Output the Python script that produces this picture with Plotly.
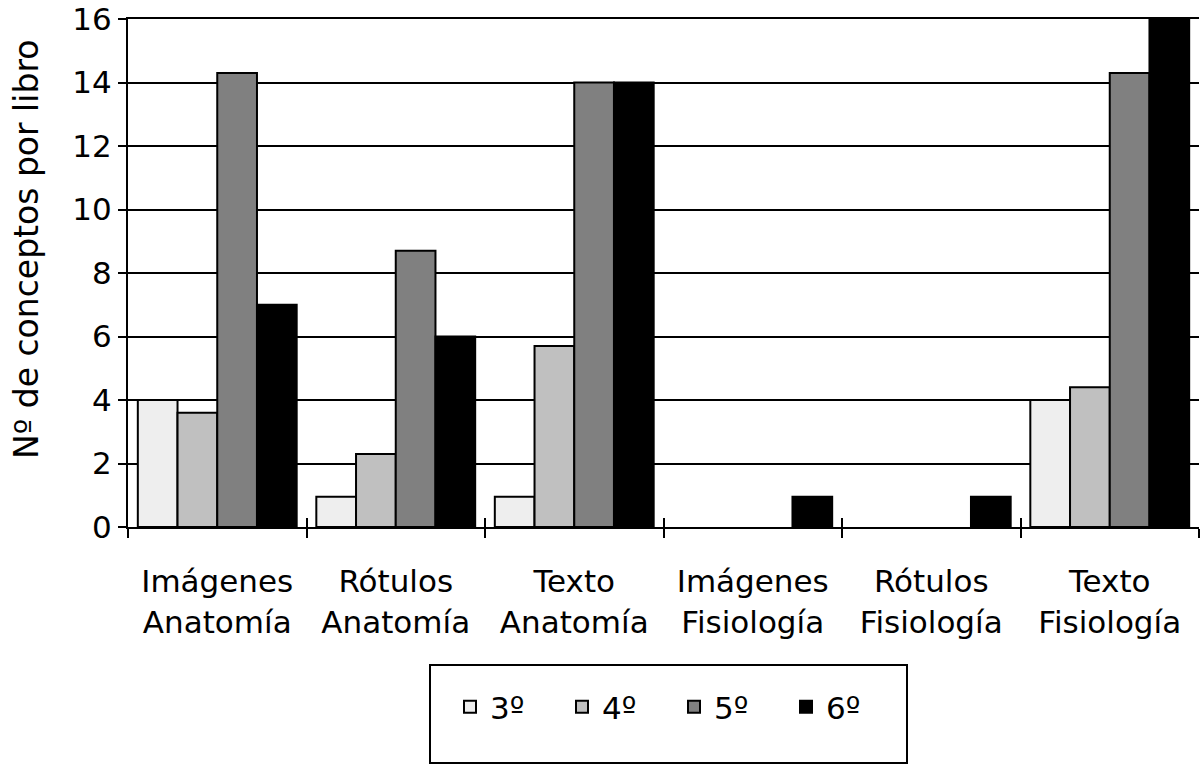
import plotly.graph_objects as go

categories = ["Imágenes<br>Anatomía", "Rótulos<br>Anatomía", "Texto<br>Anatomía",
              "Imágenes<br>Fisiología", "Rótulos<br>Fisiología", "Texto<br>Fisiología"]
series_names = ["3º", "4º", "5º", "6º"]
v3 = [4.0, 0.95, 0.95, None, None, 4.0]
v4 = [3.6, 2.3, 5.7, None, None, 4.4]
v5 = [14.3, 8.7, 14.0, None, None, 14.3]
v6 = [7.0, 6.0, 14.0, 0.95, 0.95, 16.0]
colors = ["#EEEEEE", "#C0C0C0", "#808080", "#000000"]
y_ticks = [0, 2, 4, 6, 8, 10, 12, 14, 16]
y_title = "Nº de conceptos por libro"

FONT = "DejaVu Sans"
TICK = 31
W, H = 1204, 765
PL, PR, PT, PB = 128, 1199, 19, 527          # plot area in px
PW, PHt = PR - PL, PB - PT

def px(x):
    return (x - PL) / PW

def py(y):
    return (PB - y) / PHt

fig = go.Figure()
for name, vals, col in zip(series_names, [v3, v4, v5, v6], colors):
    fig.add_trace(go.Bar(x=categories, y=vals, name=name,
                         marker=dict(color=col, line=dict(color="black", width=2))))
# invisible trace on an overlay axis to draw the inner half of crossing ticks
fig.add_trace(go.Scatter(x=categories, y=v6, xaxis="x2", mode="markers",
                         marker=dict(opacity=0), showlegend=False, hoverinfo="skip"))

fig.update_layout(
    width=W, height=H,
    margin=dict(l=PL, r=W - PR, t=PT, b=H - PB, autoexpand=False),
    paper_bgcolor="white", plot_bgcolor="white",
    barmode="group", bargap=0.11, bargroupgap=0,
    font=dict(family=FONT, size=TICK, color="black"),
    xaxis=dict(type="category", showline=True, linecolor="black", linewidth=2,
               mirror=True,
               ticks="outside", ticklen=9, tickwidth=2, tickcolor="black",
               tickson="boundaries", showgrid=False, ticklabelstandoff=26,
               tickfont=dict(family=FONT, size=TICK)),
    xaxis2=dict(type="category", overlaying="x", matches="x", showline=False,
                ticks="inside", ticklen=9, tickwidth=2, tickcolor="black",
                tickson="boundaries", showgrid=False, showticklabels=False),
    yaxis=dict(range=[0, 16], tickvals=y_ticks, showline=True, linecolor="black",
               linewidth=2, ticks="outside", ticklen=8, tickwidth=2, tickcolor="black",
               showgrid=True, gridcolor="black", gridwidth=2, zeroline=False,
               ticklabeloverflow="allow",
               tickfont=dict(family=FONT, size=TICK)),
    legend=dict(orientation="h", x=px(450), xanchor="left", y=py(680), yanchor="top",
                bgcolor="rgba(0,0,0,0)", borderwidth=0, entrywidth=67,
                font=dict(family=FONT, size=TICK)),
    annotations=[dict(text=y_title, xref="paper", yref="paper", x=px(27), y=py(250),
                      xanchor="center", yanchor="middle", textangle=-90, showarrow=False,
                      font=dict(family=FONT, size=33, color="black"))],
    shapes=[dict(type="rect", xref="paper", yref="paper",
                 x0=px(430), x1=px(907), y0=py(763), y1=py(665),
                 line=dict(color="black", width=2), fillcolor="rgba(0,0,0,0)")],
)
fig.write_html("out.html", config={"displayModeBar": False},
               post_script="document.body.style.margin='0';document.body.style.overflow='hidden';")
